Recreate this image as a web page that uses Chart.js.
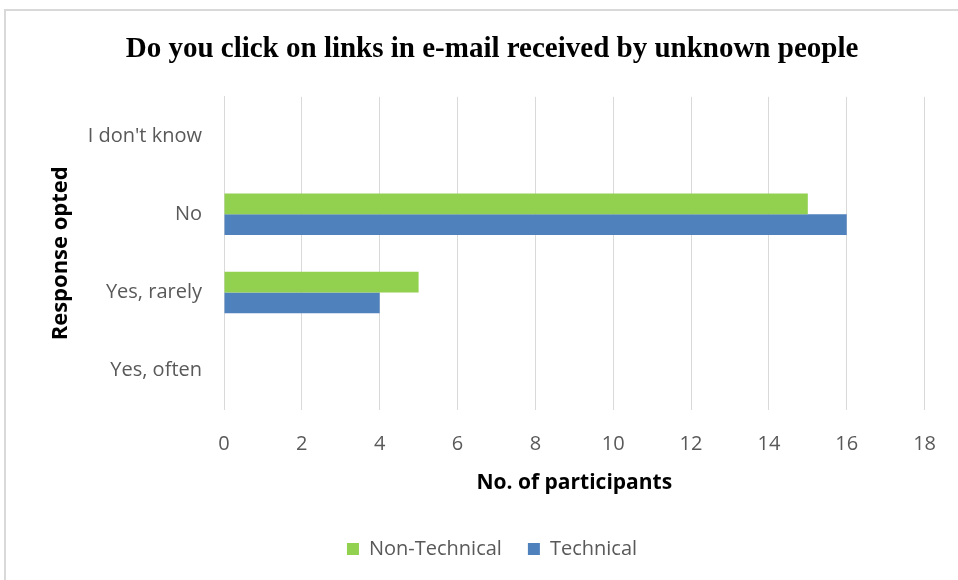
<!DOCTYPE html>
<html lang="en">
<head>
    <meta charset="UTF-8">
    <title>Do you click on links in e-mail received by unknown people</title>
    <script src="https://cdn.jsdelivr.net/npm/chart.js"></script>
    <style>
        body {
            margin: 0;
            background-color: #ffffff;
            font-family: "Open Sans", sans-serif;
        }

        .frame {
            position: absolute;
            left: 4px;
            top: 9px;
            width: 970px;
            height: 590px;
            border: 2px solid #d9d9d9;
        }

        .wrap {
            position: absolute;
            left: 0;
            top: 0;
            width: 958px;
            height: 580px;
        }
    </style>
</head>
<body>
    <div class="frame"></div>
    <div class="wrap">
        <canvas id="clickChart"></canvas>
    </div>

    <script>
        const responses = ["I don't know", 'No', 'Yes, rarely', 'Yes, often'];
        const nonTechnical = [0, 15, 5, 0];
        const technical = [0, 16, 4, 0];
        const xTicks = [0, 2, 4, 6, 8, 10, 12, 14, 16, 18];

        const tickGray = '#595959';

        const ctx = document.getElementById('clickChart').getContext('2d');
        new Chart(ctx, {
            type: 'bar',
            data: {
                labels: responses,
                datasets: [
                    {
                        label: 'Non-Technical',
                        data: nonTechnical,
                        backgroundColor: '#92d050'
                    },
                    {
                        label: 'Technical',
                        data: technical,
                        backgroundColor: '#4f81bd'
                    }
                ]
            },
            options: {
                indexAxis: 'y',
                responsive: true,
                maintainAspectRatio: false,
                animation: false,
                datasets: {
                    bar: {
                        categoryPercentage: 0.53,
                        barPercentage: 1.0
                    }
                },
                layout: {
                    padding: { left: 48, right: 22, top: 0, bottom: 11 }
                },
                scales: {
                    x: {
                        min: 0,
                        max: 18,
                        afterBuildTicks: axis => {
                            axis.ticks = xTicks.map(v => ({ value: v }));
                        },
                        grid: {
                            color: '#d9d9d9',
                            drawTicks: false
                        },
                        border: { display: false },
                        ticks: {
                            color: tickGray,
                            padding: 22,
                            font: { family: 'Open Sans', size: 20 }
                        },
                        title: {
                            display: true,
                            text: 'No. of participants',
                            color: '#000000',
                            padding: { top: -7, bottom: 17 },
                            font: { family: 'Open Sans', size: 21, weight: 'bold' }
                        }
                    },
                    y: {
                        afterFit: axis => {
                            axis.width = 176;
                        },
                        grid: { display: false, drawTicks: false },
                        border: { display: true, color: '#d9d9d9' },
                        ticks: {
                            color: tickGray,
                            padding: 22,
                            font: { family: 'Open Sans', size: 20 }
                        },
                        title: {
                            display: true,
                            text: 'Response opted',
                            color: '#000000',
                            padding: { top: 0, bottom: 0 },
                            font: { family: 'Open Sans', size: 22, weight: 'bold' }
                        }
                    }
                },
                plugins: {
                    title: {
                        display: true,
                        text: 'Do you click on links in e-mail received by unknown people',
                        color: '#000000',
                        padding: { top: 32, bottom: 30 },
                        font: { family: 'Liberation Serif', size: 29, weight: 'bold' }
                    },
                    legend: {
                        position: 'bottom',
                        labels: {
                            color: tickGray,
                            boxWidth: 12,
                            boxHeight: 12,
                            padding: 26,
                            font: { family: 'Open Sans', size: 20 }
                        }
                    },
                    tooltip: { enabled: false }
                }
            }
        });
    </script>
</body>
</html>
